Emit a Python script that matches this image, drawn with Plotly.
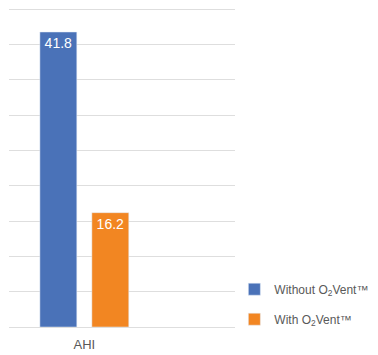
import plotly.graph_objects as go

categories = ["AHI"]
series_names = ["Without O<sub>2</sub>Vent™", "With O<sub>2</sub>Vent™"]
without_vals = [41.8]
with_vals = [16.2]
colors = ["#4a72b8", "#f28622"]

fig = go.Figure()
for name, vals, col in zip(series_names, [without_vals, with_vals], colors):
    fig.add_trace(go.Bar(
        x=categories, y=vals, name=name, marker_color=col,
        text=[f"{v:.1f}" for v in vals], textposition="inside",
        insidetextanchor="end", textfont=dict(color="white", size=14),
        legendgroup=name,
    ))

fig.update_layout(
    width=378, height=355,
    margin=dict(l=9, r=143, t=8, b=28, autoexpand=False),
    plot_bgcolor="white", paper_bgcolor="white",
    barmode="group", bargap=0.31, bargroupgap=0.29,
    font=dict(family="Liberation Sans, Arial, sans-serif", color="#595959"),
    showlegend=True,
    legend=dict(xref="container", yref="container", x=0.62, y=0.06,
                xanchor="left", yanchor="bottom", itemwidth=30,
                font=dict(size=12, color="#595959"), tracegroupgap=11,
                bgcolor="rgba(0,0,0,0)"),
)
fig.update_xaxes(range=[-0.5, 1.0], showgrid=False, showline=False, ticks="",
                 ticklabelstandoff=8,
                 tickfont=dict(size=13, color="#595959"))
fig.update_yaxes(range=[0, 45.2], tick0=0, dtick=5, showticklabels=False, showgrid=True,
                 gridcolor="#dedede", gridwidth=1, zeroline=True,
                 zerolinecolor="#dedede", zerolinewidth=1, ticks="")
fig.write_html("out.html")
